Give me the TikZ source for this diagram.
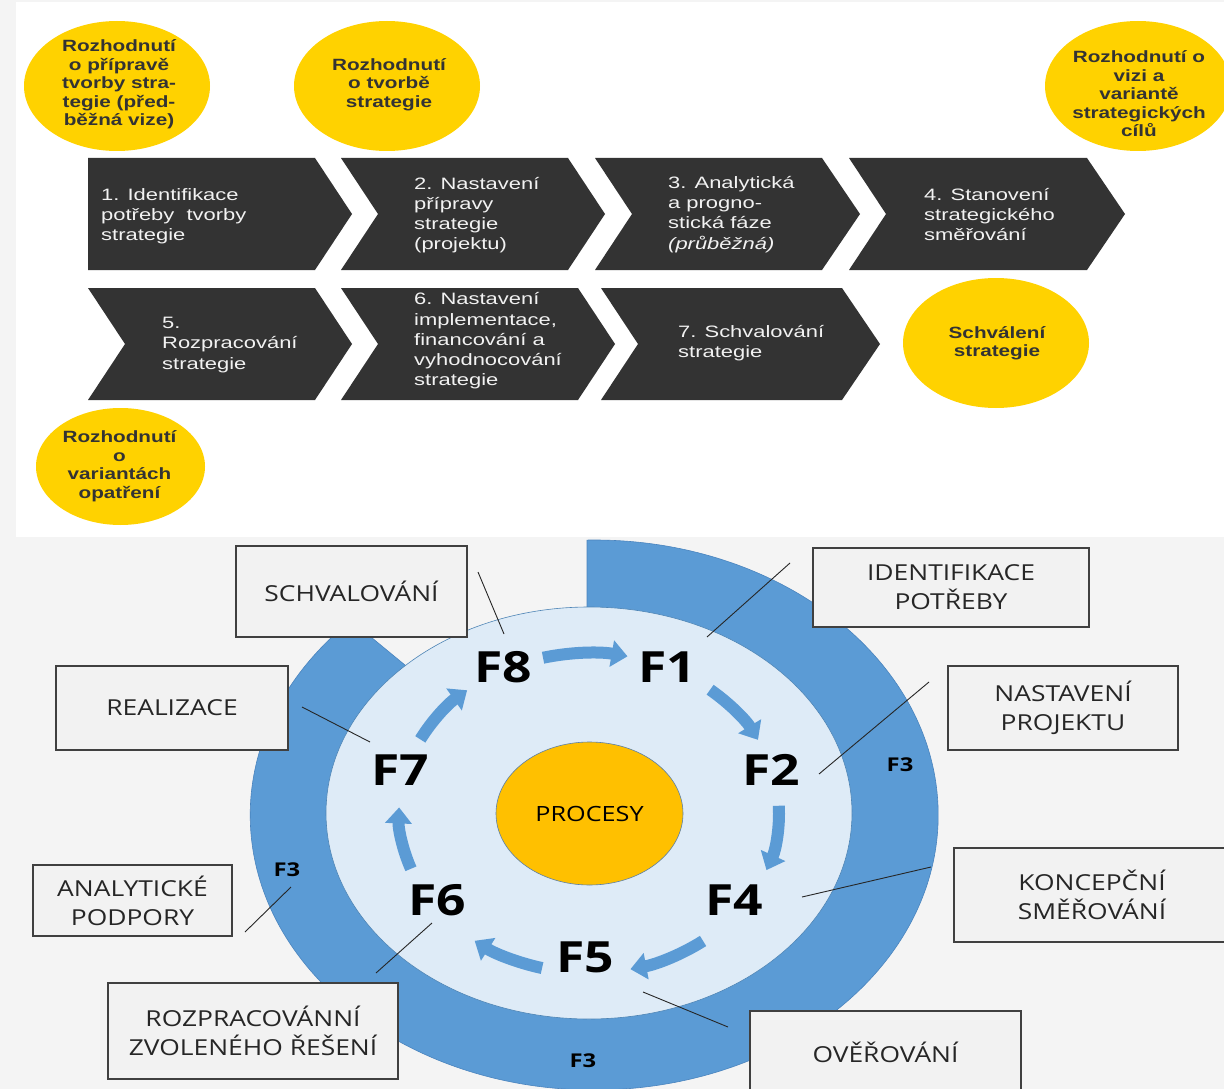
\documentclass[tikz,border=0pt]{standalone}
\usepackage{fontspec}
\usetikzlibrary{shapes.geometric,arrows.meta}
\newfontfamily\chevf[FakeStretch=1.33]{Liberation Sans}
\newfontfamily\ellf[FakeStretch=1.27]{Liberation Sans}
\newfontfamily\boxfont[FakeStretch=1.2]{Open Sans}
\newfontfamily\flabf[FakeStretch=1.2]{Open Sans}
\newfontfamily\fthree[FakeStretch=1.25]{Open Sans}
\definecolor{bggray}{HTML}{F4F4F4}
\definecolor{chev}{HTML}{333333}
\definecolor{chevtxt}{HTML}{F2F2F2}
\definecolor{gold}{HTML}{FFD200}
\definecolor{elltxt}{HTML}{333333}
\definecolor{ringblue}{HTML}{5B9BD5}
\definecolor{ringedge}{HTML}{4A84BE}
\definecolor{innerfill}{HTML}{DEEBF7}
\definecolor{procfill}{HTML}{FFC000}
\definecolor{procedge}{HTML}{5B7FA8}
\definecolor{boxfill}{HTML}{F2F2F2}
\definecolor{boxedge}{HTML}{404040}
\begin{document}
\begin{tikzpicture}[x=1pt,y=-1pt,
  chevtext/.style={anchor=west, align=left, inner sep=0, text=chevtxt, font=\chevf\fontsize{16.5}{20.2}\selectfont},
  yell/.style={ellipse, fill=gold, inner sep=0},
  elltext/.style={align=center, inner sep=0, text=elltxt, font=\ellf\bfseries\fontsize{16.3}{18.5}\selectfont},
  callout/.style={draw=boxedge, line width=1.2pt, fill=boxfill, inner sep=0, align=center,
     font=\boxfont\fontsize{22}{29}\selectfont, text=black!85},
  flab/.style={inner sep=0, font=\flabf\bfseries\fontsize{43}{43}\selectfont},
  fthr/.style={inner sep=0, font=\fthree\bfseries\fontsize{19}{19}\selectfont},
  leader/.style={draw=black!85, line width=0.9pt},
  cyc/.style={draw=ringblue, line width=12pt, -{Triangle[width=26pt,length=16pt]}}]
\useasboundingbox (0,0) rectangle (1224,1089);
\clip (0,0) rectangle (1224,1089);
\fill[bggray] (0,0) rectangle (1224,1089);
\fill[white] (16,2) rectangle (1224,537);

% ---------- chevrons ----------
\fill[chev] (88,158) -- (315,158) -- (352,214) -- (315,270) -- (88,270) -- cycle;
\fill[chev] (341,158) -- (568,158) -- (605,214) -- (568,270) -- (341,270) -- (378,214) -- cycle;
\fill[chev] (595,158) -- (822,158) -- (860,214) -- (822,270) -- (595,270) -- (632,214) -- cycle;
\fill[chev] (849,158) -- (1087,158) -- (1125,214) -- (1087,270) -- (849,270) -- (886,214) -- cycle;
\fill[chev] (88,288) -- (315,288) -- (352,344) -- (315,400) -- (88,400) -- (125,344) -- cycle;
\fill[chev] (341,288) -- (578,288) -- (615,344) -- (578,400) -- (341,400) -- (378,344) -- cycle;
\fill[chev] (601,288) -- (842,288) -- (880,344) -- (842,400) -- (601,400) -- (638,344) -- cycle;

\node[chevtext] (c1) at (101,216) {1. Identifikace\\potřeby~ tvorby\\strategie};
\node[chevtext] (c2) at (414,215) {2. Nastavení\\přípravy\\strategie\\(projektu)};
\node[chevtext] (c3) at (668,214.5) {3. Analytická\\a progno-\\stická fáze\\\textit{(průběžná)}};
\node[chevtext] (c4) at (924,214.5) {4. Stanovení\\strategického\\směřování};
\node[chevtext] (c5) at (162,345) {5.\\Rozpracování\\strategie};
\node[chevtext] (c6) at (414,341) {6. Nastavení\\implementace,\\financování a\\vyhodnocování\\strategie};
\node[chevtext] (c7) at (678,343.5) {7. Schvalování\\strategie};

% ---------- yellow decisions ----------
\node[yell, minimum width=186pt, minimum height=130pt] (e1) at (117,86) {};
\node[yell, minimum width=186pt, minimum height=130pt] (e2) at (387,86) {};
\node[yell, minimum width=186pt, minimum height=130pt] (e3) at (1138,86) {};
\node[yell, minimum width=186pt, minimum height=130pt] (e4) at (996,343) {};
\node[yell, minimum width=169pt, minimum height=117pt] (e5) at (120.5,466.5) {};
\node[elltext] (e1t) at (119,84.5) {Rozhodnutí\\o přípravě\\tvorby stra-\\tegie (před-\\běžná vize)};
\node[elltext] (e2t) at (389,84.5) {Rozhodnutí\\o tvorbě\\strategie};
\node[elltext] (e3t) at (1139,94) {Rozhodnutí o\\vizi a\\variantě\\strategických\\cílů};
\node[elltext] (e4t) at (997,343) {Schválení\\strategie};
\node[elltext] (e5t) at (119.5,466) {Rozhodnutí\\o\\variantách\\opatření};

% ---------- cycle diagram ----------
\fill[ringblue, draw=ringedge, line width=0.6pt] (587,815) -- (587,540.06)
  arc[start angle=-91.2, end angle=225, x radius=344, y radius=275] -- cycle;
\node[ellipse, fill=innerfill, draw=ringblue!85!black, line width=0.6pt, inner sep=0,
  minimum width=526pt, minimum height=412pt] (inner) at (589,813) {};
\node[ellipse, fill=procfill, draw=procedge, line width=0.6pt, inner sep=0,
  minimum width=187pt, minimum height=143pt, font=\boxfont\fontsize{21}{21}\selectfont] (proc) at (589.5,813.5) {PROCESY};

\coordinate (c) at (589,813);
\draw[cyc] (c) ++(256:190 and 160) arc[start angle=256, end angle=281.7, x radius=190, y radius=160];
\draw[cyc] (c) ++(-50.4:190 and 160) arc[start angle=-50.4, end angle=-27.2, x radius=190, y radius=160];
\draw[cyc] (c) ++(-2.6:190 and 160) arc[start angle=-2.6, end angle=20.9, x radius=190, y radius=160];
\draw[cyc] (c) ++(53.1:190 and 160) arc[start angle=53.1, end angle=77.4, x radius=190, y radius=160];
\draw[cyc] (c) ++(104.3:190 and 160) arc[start angle=104.3, end angle=127, x radius=190, y radius=160];
\draw[cyc] (c) ++(159.6:190 and 160) arc[start angle=159.6, end angle=182, x radius=190, y radius=160];
\draw[cyc] (c) ++(207.4:190 and 160) arc[start angle=207.4, end angle=230.1, x radius=190, y radius=160];

\node[flab] (f8) at (503,667) {F8};
\node[flab] (f1) at (667,667) {F1};
\node[flab] (f2) at (771,770) {F2};
\node[flab] (f4) at (734,900) {F4};
\node[flab] (f5) at (585,957) {F5};
\node[flab] (f6) at (437,900) {F6};
\node[flab] (f7) at (400,770) {F7};
\node[fthr] (f3a) at (900,765) {F3};
\node[fthr] (f3b) at (287,870) {F3};
\node[fthr] (f3c) at (583,1061) {F3};

% ---------- callout boxes ----------
\node[callout, minimum width=231pt, minimum height=91pt] (b8) at (351.5,591.5) {SCHVALOVÁNÍ};
\node[callout, minimum width=276pt, minimum height=79pt] (b1) at (951,587.5) {IDENTIFIKACE\\POTŘEBY};
\node[callout, minimum width=230pt, minimum height=84pt] (b2) at (1063,708) {NASTAVENÍ\\PROJEKTU};
\node[callout, minimum width=232pt, minimum height=84pt] (b7) at (172,708) {REALIZACE};
\node[callout, minimum width=276pt, minimum height=94pt] (b4) at (1092,895) {KONCEPČNÍ\\SMĚŘOVÁNÍ};
\node[callout, minimum width=199pt, minimum height=71pt] (b3) at (132.5,900.5) {ANALYTICKÉ\\PODPORY};
\node[callout, minimum width=290pt, minimum height=96pt] (b6) at (253,1031) {ROZPRACOVÁNNÍ\\ZVOLENÉHO ŘEŠENÍ};
\node[callout, minimum width=271pt, minimum height=82pt] (b5) at (885.5,1052) {OVĚŘOVÁNÍ};

% ---------- leader lines ----------
\coordinate (l8a) at (478,572); \coordinate (l8b) at (504,634);
\coordinate (l1a) at (790,563); \coordinate (l1b) at (707,637);
\coordinate (l2a) at (929,682); \coordinate (l2b) at (819,774);
\coordinate (l7a) at (302,707); \coordinate (l7b) at (370,742);
\coordinate (l4a) at (931,867); \coordinate (l4b) at (802,897);
\coordinate (l3a) at (291,887); \coordinate (l3b) at (245,932);
\coordinate (l6a) at (432,923); \coordinate (l6b) at (376,973);
\coordinate (l5a) at (643,992); \coordinate (l5b) at (728,1027);
\draw[leader] (l8a) -- (l8b);
\draw[leader] (l1a) -- (l1b);
\draw[leader] (l2a) -- (l2b);
\draw[leader] (l7a) -- (l7b);
\draw[leader] (l4a) -- (l4b);
\draw[leader] (l3a) -- (l3b);
\draw[leader] (l6a) -- (l6b);
\draw[leader] (l5a) -- (l5b);
\end{tikzpicture}
\end{document}
